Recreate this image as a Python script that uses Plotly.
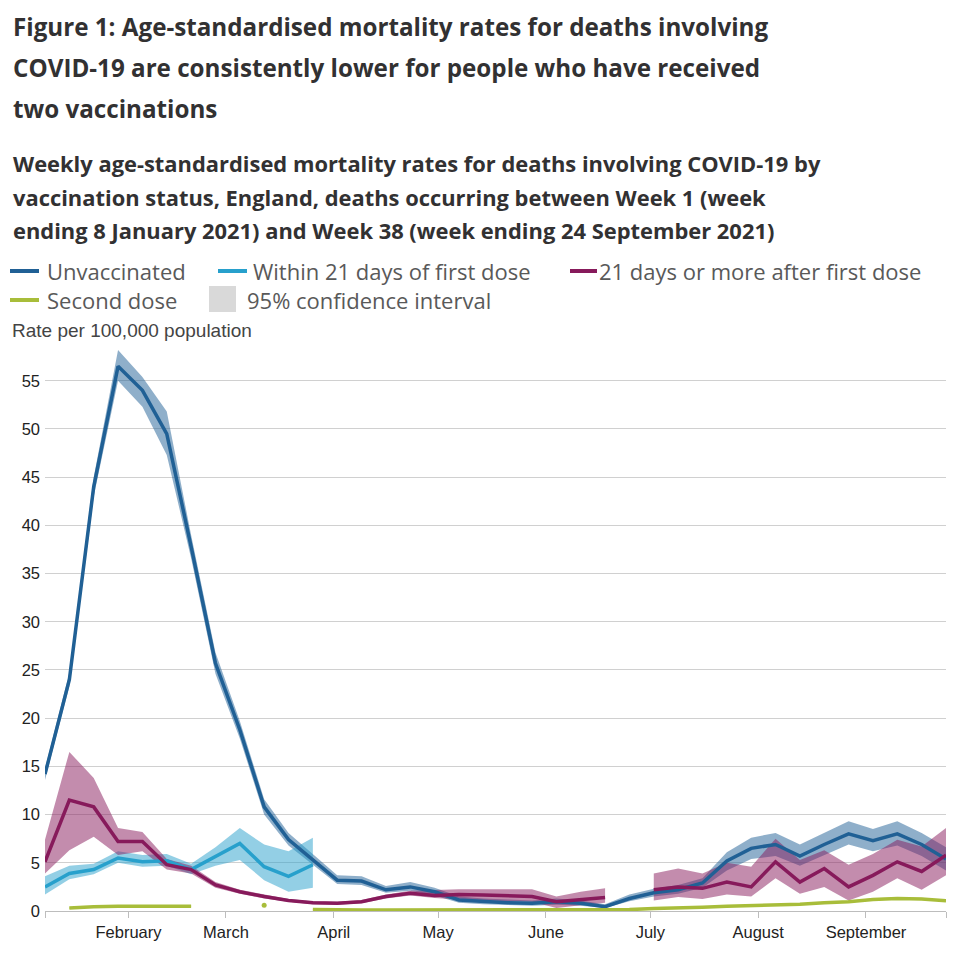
import plotly.graph_objects as go

# ---------------- data ----------------
week_ending = [
    "2021-01-08", "2021-01-15", "2021-01-22", "2021-01-29", "2021-02-05", "2021-02-12",
    "2021-02-19", "2021-02-26", "2021-03-05", "2021-03-12", "2021-03-19", "2021-03-26",
    "2021-04-02", "2021-04-09", "2021-04-16", "2021-04-23", "2021-04-30", "2021-05-07",
    "2021-05-14", "2021-05-21", "2021-05-28", "2021-06-04", "2021-06-11", "2021-06-18",
    "2021-06-25", "2021-07-02", "2021-07-09", "2021-07-16", "2021-07-23", "2021-07-30",
    "2021-08-06", "2021-08-13", "2021-08-20", "2021-08-27", "2021-09-03", "2021-09-10",
    "2021-09-17", "2021-09-24",
]

unvacc = [14.2, 24.0, 44.0, 56.5, 54.0, 49.5, 37.8, 25.7, 18.8, 10.8, 7.4, 5.3,
          3.2, 3.1, 2.2, 2.5, 2.0, 1.15, 0.97, 0.86, 0.8, 0.95, 0.8, 0.45,
          1.3, 1.9, 2.2, 2.9, 5.2, 6.5, 6.9, 5.7, 6.9, 8.0, 7.3, 8.0, 6.9, 5.4]
unvacc_lo = [13.6, 23.3, 43.0, 55.0, 52.3, 47.3, 36.6, 24.6, 17.9, 10.0, 6.8, 4.8,
             2.8, 2.7, 1.9, 2.1, 1.6, 0.85, 0.7, 0.6, 0.55, 0.65, 0.55, 0.3,
             1.0, 1.5, 1.8, 2.4, 4.2, 5.4, 5.7, 4.7, 5.8, 6.9, 6.2, 6.8, 5.7, 4.2]
unvacc_hi = [14.8, 24.7, 45.0, 58.2, 55.4, 51.8, 39.0, 26.8, 19.7, 11.6, 8.1, 5.9,
             3.7, 3.6, 2.6, 3.0, 2.4, 1.5, 1.3, 1.2, 1.1, 1.3, 1.1, 0.7,
             1.7, 2.3, 2.7, 3.4, 6.1, 7.6, 8.1, 6.9, 8.1, 9.3, 8.5, 9.3, 8.1, 6.6]

first21 = [2.5, 3.9, 4.3, 5.5, 5.1, 5.2, 4.3, 5.6, 7.0, 4.6, 3.6, 4.8] + [None] * 26
first21_lo = [1.7, 3.3, 3.8, 5.0, 4.6, 4.7, 3.8, 4.7, 5.3, 3.2, 2.0, 2.4] + [None] * 26
first21_hi = [3.6, 4.7, 4.9, 6.2, 5.8, 5.9, 4.9, 6.6, 8.6, 6.9, 6.2, 7.6] + [None] * 26

first21plus = [5.1, 11.5, 10.8, 7.2, 7.2, 4.8, 4.3, 2.7, 2.0, 1.5, 1.1, 0.85,
               0.8, 0.97, 1.5, 1.84, 1.6, 1.7, 1.66, 1.55, 1.5, 0.97, 1.2, 1.4,
               None, 2.2, 2.5, 2.35, 3.0, 2.5, 5.1, 3.0, 4.4, 2.5, 3.7, 5.1, 4.1, 5.8]
first21plus_lo = [3.9, 6.3, 7.7, 5.8, 6.2, 4.3, 3.9, 2.4, 1.8, 1.3, 0.95, 0.7,
                  0.65, 0.8, 1.3, 1.6, 1.35, 1.2, 1.1, 1.0, 0.95, 0.3, 0.6, 0.86,
                  None, 1.1, 1.45, 1.25, 1.7, 1.5, 3.4, 1.8, 2.5, 1.1, 2.0, 3.4, 2.2, 3.7]
first21plus_hi = [7.4, 16.5, 13.8, 8.6, 8.2, 5.4, 4.7, 3.0, 2.2, 1.7, 1.25, 1.0,
                  0.95, 1.15, 1.7, 2.1, 2.2, 2.25, 2.25, 2.25, 2.25, 1.5, 2.0, 2.35,
                  None, 3.9, 4.4, 3.9, 5.0, 4.6, 7.5, 5.3, 6.3, 4.8, 5.9, 7.4, 6.7, 8.6]

second = [None, 0.3, 0.45, 0.5, 0.5, 0.45, 0.5, None, None, 0.6, None, 0.15,
          0.1, 0.1, 0.1, 0.1, 0.1, 0.1, 0.1, 0.1, 0.1, 0.1, 0.1, 0.12,
          0.15, 0.25, 0.3, 0.4, 0.5, 0.55, 0.6, 0.7, 0.86, 0.97, 1.2, 1.3, 1.25, 1.05]
second_lo = [None, 0.2, 0.35, 0.4, 0.4, 0.35, 0.4, None, None, 0.5, None, 0.1,
             0.05, 0.05, 0.05, 0.05, 0.05, 0.05, 0.05, 0.05, 0.05, 0.05, 0.05, 0.07,
             0.1, 0.18, 0.22, 0.32, 0.42, 0.47, 0.52, 0.62, 0.77, 0.87, 1.08, 1.18, 1.13, 0.95]
second_hi = [None, 0.4, 0.55, 0.6, 0.6, 0.55, 0.6, None, None, 0.7, None, 0.2,
             0.15, 0.15, 0.15, 0.15, 0.15, 0.15, 0.15, 0.15, 0.15, 0.15, 0.15, 0.17,
             0.2, 0.32, 0.38, 0.48, 0.58, 0.63, 0.68, 0.78, 0.95, 1.07, 1.32, 1.42, 1.37, 1.15]

series_names = ["Unvaccinated", "Within 21 days of first dose",
                "21 days or more after first dose", "Second dose"]
series_colors = ["#206095", "#27a0cc", "#871a5b", "#a8bd3a"]
band_colors = ["rgba(32,96,149,0.5)", "rgba(39,160,204,0.5)",
               "rgba(135,26,91,0.5)", "rgba(168,189,58,0.5)"]

title_lines = [
    "Figure 1: Age-standardised mortality rates for deaths involving",
    "COVID-19 are consistently lower for people who have received",
    "two vaccinations",
]
subtitle_lines = [
    "Weekly age-standardised mortality rates for deaths involving COVID-19 by",
    "vaccination status, England, deaths occurring between Week 1 (week",
    "ending 8 January 2021) and Week 38 (week ending 24 September 2021)",
]
y_label = "Rate per 100,000 population"
month_ticks = ["2021-02-01", "2021-03-01", "2021-04-01", "2021-05-01",
               "2021-06-01", "2021-07-01", "2021-08-01", "2021-09-01"]
month_labels = ["February", "March", "April", "May", "June", "July", "August", "September"]
y_ticks = [0, 5, 10, 15, 20, 25, 30, 35, 40, 45, 50, 55]

# ---------------- layout geometry (page pixels) ----------------
OFF = 8                       # page body margin
W, H = 962 - OFF, 954 - OFF   # figure size
PL, PR, PT, PB = 45, 946, 347, 911   # plot area in page pixels


def px_x(p):
    return (p - PL) / (PR - PL)


def px_y(p):
    return (PB - p) / (PB - PT)


def band_polygon(xs, lo, hi):
    """Build closed polygons for contiguous non-null runs."""
    px, py = [], []
    run = []
    for i in range(len(xs) + 1):
        if i < len(xs) and lo[i] is not None and hi[i] is not None:
            run.append(i)
        else:
            if len(run) > 1:
                px += [xs[j] for j in run] + [xs[j] for j in reversed(run)] + [xs[run[0]], None]
                py += [hi[j] for j in run] + [lo[j] for j in reversed(run)] + [hi[run[0]], None]
            run = []
    return px, py


def isolated(xs, ys):
    ox, oy = [], []
    for i, v in enumerate(ys):
        if v is None:
            continue
        prev_ok = i > 0 and ys[i - 1] is not None
        next_ok = i < len(ys) - 1 and ys[i + 1] is not None
        if not prev_ok and not next_ok:
            ox.append(xs[i])
            oy.append(v)
    return ox, oy


fig = go.Figure()

all_series = [
    (unvacc, unvacc_lo, unvacc_hi),
    (first21, first21_lo, first21_hi),
    (first21plus, first21plus_lo, first21plus_hi),
    (second, second_lo, second_hi),
]

for k, (vals, lo, hi) in enumerate(all_series):
    bx, by = band_polygon(week_ending, lo, hi)
    fig.add_trace(go.Scatter(x=bx, y=by, mode="lines", fill="toself",
                             fillcolor=band_colors[k], line=dict(width=0),
                             hoverinfo="skip", showlegend=False))

for k, (vals, lo, hi) in enumerate(all_series):
    fig.add_trace(go.Scatter(x=week_ending, y=vals, mode="lines", name=series_names[k],
                             line=dict(color=series_colors[k], width=3.5),
                             connectgaps=False, showlegend=False))
    ox, oy = isolated(week_ending, vals)
    if ox:
        fig.add_trace(go.Scatter(x=ox, y=oy, mode="markers",
                                 marker=dict(color=series_colors[k], size=5),
                                 showlegend=False, hoverinfo="skip"))

annotations = []
shapes = []

title_font = dict(family="Open Sans", size=24.2, color="#323132")
for i, t in enumerate(title_lines):
    annotations.append(dict(text="<b>%s</b>" % t, x=px_x(11), y=px_y(26 + 41 * i),
                            xref="paper", yref="paper", xanchor="left", yanchor="middle",
                            showarrow=False, font=title_font))
sub_font = dict(family="Open Sans", size=21.9, color="#323132")
for i, t in enumerate(subtitle_lines):
    annotations.append(dict(text="<b>%s</b>" % t, x=px_x(11), y=px_y(164 + 33 * i),
                            xref="paper", yref="paper", xanchor="left", yanchor="middle",
                            showarrow=False, font=sub_font))

leg_font = dict(family="Open Sans", size=22, color="#595959")
legend_items = [
    (0, 10, 39, 45, 271),
    (1, 218, 247, 251, 271),
    (2, 570, 597, 597, 271),
    (3, 10, 39, 45, 300),
]
for k, x0, x1, tx, yy in legend_items:
    shapes.append(dict(type="line", xref="paper", yref="paper",
                       x0=px_x(x0), x1=px_x(x1), y0=px_y(yy), y1=px_y(yy),
                       line=dict(color=series_colors[k], width=4)))
    annotations.append(dict(text=series_names[k], x=px_x(tx), y=px_y(yy),
                            xref="paper", yref="paper", xanchor="left", yanchor="middle",
                            showarrow=False, font=leg_font))
shapes.append(dict(type="rect", xref="paper", yref="paper",
                   x0=px_x(209), x1=px_x(236), y0=px_y(312), y1=px_y(286),
                   fillcolor="#d9d9d9", line=dict(width=0)))
annotations.append(dict(text="95% confidence interval", x=px_x(245), y=px_y(300),
                        xref="paper", yref="paper", xanchor="left", yanchor="middle",
                        showarrow=False, font=leg_font))
annotations.append(dict(text=y_label, x=px_x(10), y=px_y(330),
                        xref="paper", yref="paper", xanchor="left", yanchor="middle",
                        showarrow=False,
                        font=dict(family="Liberation Sans", size=19, color="#444444")))

tick_vals = [week_ending[0]] + month_ticks + [week_ending[-1]]
tick_text = [""] + month_labels + [""]

fig.update_layout(
    width=W, height=H,
    margin=dict(l=PL - OFF, r=W - (PR - OFF), t=PT - OFF, b=H - (PB - OFF)),
    paper_bgcolor="white", plot_bgcolor="white",
    showlegend=False,
    annotations=annotations, shapes=shapes,
    xaxis=dict(type="date", range=[week_ending[0], week_ending[-1]],
               tickvals=tick_vals, ticktext=tick_text,
               showgrid=False, showline=True, linecolor="#bdbdbd", linewidth=1,
               ticks="outside", ticklen=6, tickcolor="#bdbdbd",
               tickfont=dict(family="Liberation Sans", size=16.5, color="#222222"),
               zeroline=False),
    yaxis=dict(range=[0, 58.5], tickvals=y_ticks,
               showgrid=True, gridcolor="#d0d0d0", gridwidth=1,
               zeroline=False, showline=False, ticks="", ticklabelstandoff=4,
               tickfont=dict(family="Liberation Sans", size=16.5, color="#222222")),
)

fig.write_html("out.html")
